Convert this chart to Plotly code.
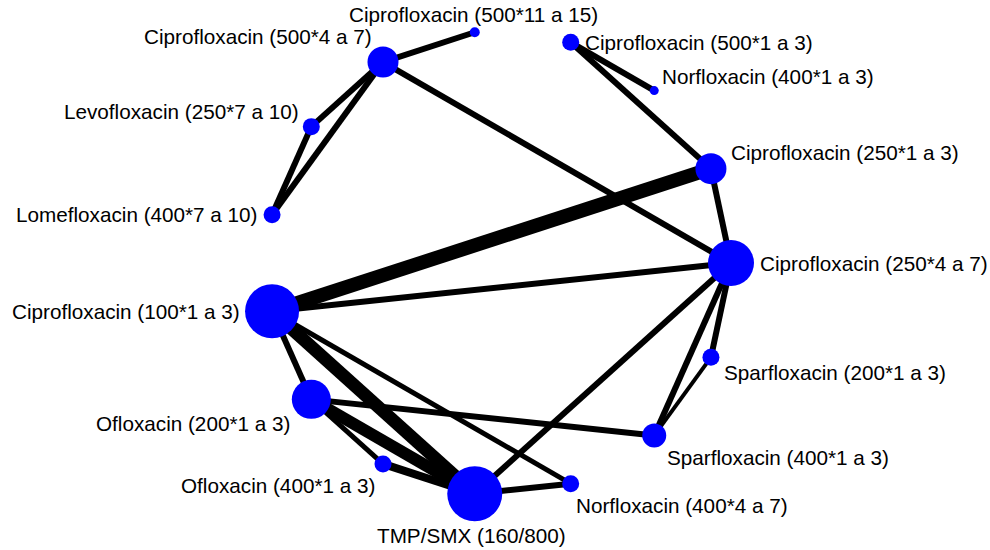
import math
import plotly.graph_objects as go

# Treatments in circular order (clockwise from the right-hand side)
treatments = [
    "Ciprofloxacin (250*4 a 7)",
    "Sparfloxacin (200*1 a 3)",
    "Sparfloxacin (400*1 a 3)",
    "Norfloxacin (400*4 a 7)",
    "TMP/SMX (160/800)",
    "Ofloxacin (400*1 a 3)",
    "Ofloxacin (200*1 a 3)",
    "Ciprofloxacin (100*1 a 3)",
    "Lomefloxacin (400*7 a 10)",
    "Levofloxacin (250*7 a 10)",
    "Ciprofloxacin (500*4 a 7)",
    "Ciprofloxacin (500*11 a 15)",
    "Ciprofloxacin (500*1 a 3)",
    "Norfloxacin (400*1 a 3)",
    "Ciprofloxacin (250*1 a 3)",
]

# Node weight (drawn as marker diameter)
node_weight = [46, 17, 24, 17, 55, 17, 39, 54, 17, 17, 31, 10, 17, 9, 31]

# Direct comparisons and their weights (drawn as line width)
edge_from = [
    "Ciprofloxacin (500*4 a 7)", "Ciprofloxacin (500*4 a 7)", "Ciprofloxacin (500*4 a 7)",
    "Levofloxacin (250*7 a 10)", "Ciprofloxacin (500*4 a 7)", "Ciprofloxacin (500*1 a 3)",
    "Ciprofloxacin (500*1 a 3)", "Ciprofloxacin (250*1 a 3)", "Ciprofloxacin (250*1 a 3)",
    "Ciprofloxacin (250*4 a 7)", "Ciprofloxacin (250*4 a 7)", "Ciprofloxacin (250*4 a 7)",
    "Sparfloxacin (200*1 a 3)", "Ciprofloxacin (250*4 a 7)", "Ciprofloxacin (100*1 a 3)",
    "Ciprofloxacin (100*1 a 3)", "Ciprofloxacin (100*1 a 3)", "Ofloxacin (200*1 a 3)",
    "Ofloxacin (200*1 a 3)", "Ofloxacin (200*1 a 3)", "Ofloxacin (400*1 a 3)",
    "TMP/SMX (160/800)",
]
edge_to = [
    "Ciprofloxacin (500*11 a 15)", "Levofloxacin (250*7 a 10)", "Lomefloxacin (400*7 a 10)",
    "Lomefloxacin (400*7 a 10)", "Ciprofloxacin (250*4 a 7)", "Norfloxacin (400*1 a 3)",
    "Ciprofloxacin (250*1 a 3)", "Ciprofloxacin (250*4 a 7)", "Ciprofloxacin (100*1 a 3)",
    "Ciprofloxacin (100*1 a 3)", "Sparfloxacin (200*1 a 3)", "Sparfloxacin (400*1 a 3)",
    "Sparfloxacin (400*1 a 3)", "TMP/SMX (160/800)", "Ofloxacin (200*1 a 3)",
    "TMP/SMX (160/800)", "Norfloxacin (400*4 a 7)", "Ofloxacin (400*1 a 3)",
    "TMP/SMX (160/800)", "Sparfloxacin (400*1 a 3)", "TMP/SMX (160/800)",
    "Norfloxacin (400*4 a 7)",
]
edge_weight = [6, 6, 6, 6, 6, 6, 6, 6, 14, 6, 6, 6, 4, 6, 6, 13, 5, 5, 12, 6, 8, 6]

# Circular layout (pixel space)
CX, CY, R = 499, 263, 232
n = len(treatments)
angles = [2 * math.pi * i / n for i in range(n)]
pos = {t: (CX + R * math.cos(a), CY + R * math.sin(a)) for t, a in zip(treatments, angles)}

fig = go.Figure()

for a, b, w in zip(edge_from, edge_to, edge_weight):
    (x0, y0), (x1, y1) = pos[a], pos[b]
    fig.add_trace(go.Scatter(
        x=[x0, x1], y=[y0, y1], mode="lines",
        line=dict(color="black", width=w),
        hoverinfo="skip", showlegend=False,
    ))

fig.add_trace(go.Scatter(
    x=[pos[t][0] for t in treatments],
    y=[pos[t][1] for t in treatments],
    mode="markers",
    marker=dict(size=node_weight, color="#0000FF", line=dict(width=0), opacity=1),
    text=treatments, hoverinfo="text", showlegend=False,
))

# Label placement around the circle
label_override = {"Ciprofloxacin (500*1 a 3)": ("left", "middle")}
for t, a, s in zip(treatments, angles, node_weight):
    x, y = pos[t]
    r = s / 2
    d = r + 5
    c, sn = math.cos(a), math.sin(a)
    if c > 0.15:
        xa = "left"
    elif c < -0.15:
        xa = "right"
    else:
        xa = "center"
    if abs(sn) < 0.3:
        ya, lx, ly = "middle", x + d * c, y
    elif sn > 0:
        ya, lx, ly = "top", x + d * c, y + d * sn - 3
    else:
        ya, lx, ly = "bottom", x + d * c, y + d * sn + 5
    if t in label_override:
        xa, ya = label_override[t]
        lx, ly = x + d, y
    fig.add_annotation(
        x=lx, y=ly, text=t, showarrow=False,
        xanchor=xa, yanchor=ya, borderpad=0,
        font=dict(family="Liberation Sans, Arial, sans-serif", size=20.7, color="black"),
    )

fig.update_layout(
    width=990, height=550,
    margin=dict(l=0, r=0, t=0, b=0),
    paper_bgcolor="white", plot_bgcolor="white",
    xaxis=dict(range=[0, 990], visible=False, fixedrange=True),
    yaxis=dict(range=[550, 0], visible=False, fixedrange=True),
)

fig.write_html("out.html")
